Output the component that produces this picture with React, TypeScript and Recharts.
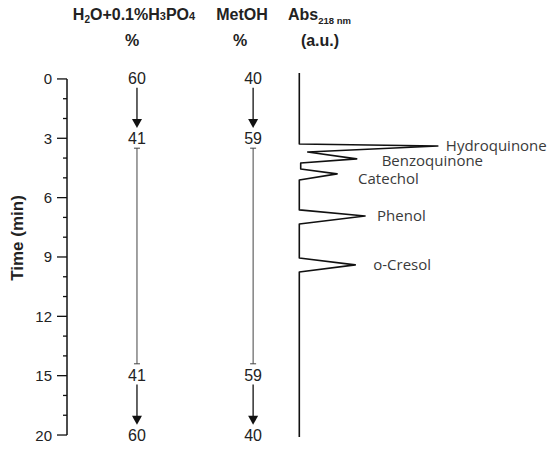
import React from "react";
import {
  LineChart,
  Line,
  XAxis,
  YAxis,
  ReferenceLine,
  ReferenceDot,
} from "recharts";

// time axis: positions 0..18, the last major tick is labelled 20 (axis break)
const TICK_POS = [0, 3, 6, 9, 12, 15, 18];
const TICK_LABELS = ["0", "3", "6", "9", "12", "15", "20"];
const MINOR_POS = [1, 2, 4, 5, 7, 8, 10, 11, 13, 14, 16, 17];

// gradient program
const GRAD_POS = [0, 3, 15, 18];
const WATER = [60, 41, 41, 60];
const METOH = [40, 59, 59, 40];

// chromatogram trace (time position, absorbance)
const TRACE_T = [-0.3, 3.29, 3.39, 3.69, 4.04, 4.25, 4.55, 4.8, 5.11, 6.62, 6.93, 7.33, 9.05, 9.4, 9.76, 18.1];
const TRACE_ABS = [0, 0, 99, 6, 41, 1, 1, 27, 0, 0, 47, 0, 0, 40, 0, 0];
const TRACE_LABEL = ["", "", "Hydroquinone", "", "Benzoquinone", "", "", "Catechol", "", "", "Phenol", "", "", "o-Cresol", "", ""];

const traceData = TRACE_T.map((t, i) => ({ t, abs: TRACE_ABS[i], name: TRACE_LABEL[i] }));

// layout
const X_MIN = -166;
const X_MAX = 172;
const COL_WATER = -116;
const COL_METOH = -33;
const LABEL_OFFSET: Record<string, [number, number]> = {
  Hydroquinone: [8, -1],
  Benzoquinone: [25, 1],
  Catechol: [21, 4],
  Phenol: [12, -1],
  "o-Cresol": [18, -1],
};

const SANS = "'Liberation Sans', Arial, sans-serif";

const TimeTick = (props: any) => {
  const { x, y, payload } = props;
  const axisX = x + 15;
  const idx = TICK_POS.indexOf(payload.value);
  const major = idx >= 0;
  return (
    <g>
      <line x1={axisX - (major ? 10 : 4)} x2={axisX} y1={y} y2={y} stroke="#111" strokeWidth={1.3} />
      {major && (
        <text x={x} y={y} textAnchor="end" dominantBaseline="central" fontSize={15} fontFamily={SANS} fill="#222">
          {TICK_LABELS[idx]}
        </text>
      )}
    </g>
  );
};

const Arrow = (props: any) => {
  const { x1, y1, y2 } = props;
  return (
    <g>
      <line x1={x1} x2={x1} y1={y1} y2={y2 - 8} stroke="#111" strokeWidth={1.3} />
      <polygon points={`${x1 - 5},${y2 - 9} ${x1 + 5},${y2 - 9} ${x1},${y2}`} fill="#111" />
    </g>
  );
};

const Hold = (props: any) => {
  const { x1, y1, y2 } = props;
  return (
    <g stroke="#444" strokeWidth={1}>
      <line x1={x1} x2={x1} y1={y1} y2={y2} />
      <line x1={x1 - 3} x2={x1 + 3} y1={y1} y2={y1} />
      <line x1={x1 - 3} x2={x1 + 3} y1={y2} y2={y2} />
    </g>
  );
};

const numberShape = (value: number) => (p: any) => (
  <text x={p.cx} y={p.cy} textAnchor="middle" dominantBaseline="central" fontSize={16} fontFamily={SANS} fill="#222">
    {value}
  </text>
);

const peakShape = (name: string) => (p: any) => {
  const [dx, dy] = LABEL_OFFSET[name];
  return (
    <text x={p.cx + dx} y={p.cy + dy} dominantBaseline="central" fontSize={15} fontFamily="'Open Sans', sans-serif" fill="#3a3a3a">
      {name}
    </text>
  );
};

function gradientMarks(col: number, values: number[], key: string) {
  const out: React.ReactNode[] = [];
  GRAD_POS.forEach((pos, i) => {
    out.push(
      <ReferenceDot key={`${key}-n${i}`} x={col} y={pos} r={0} shape={numberShape(values[i])} ifOverflow="visible" />
    );
    if (i < GRAD_POS.length - 1) {
      const next = GRAD_POS[i + 1];
      const hold = values[i] === values[i + 1];
      out.push(
        <ReferenceLine
          key={`${key}-s${i}`}
          segment={[
            { x: col, y: pos + (hold ? 0.5 : 0.45) },
            { x: col, y: next - (hold ? 0.6 : 0.52) },
          ]}
          shape={hold ? Hold : Arrow}
          ifOverflow="visible"
        />
      );
    }
  });
  return out;
}

export default function App() {
  return (
    <div style={{ position: "absolute", left: 0, top: 0, width: 550, height: 449, background: "#fff" }}>
      <svg width={550} height={60} style={{ position: "absolute", left: 0, top: 0 }}>
        <g fontFamily={SANS} fontWeight="bold" fill="#222">
          <text x={134} y={20} textAnchor="middle" fontSize={16}>
            H<tspan fontSize={10} dy={3}>2</tspan>
            <tspan dy={-3}>O+0.1%H</tspan>
            <tspan fontSize={11}>3</tspan>PO<tspan fontSize={11}>4</tspan>
          </text>
          <text x={132} y={46} textAnchor="middle" fontSize={16}>%</text>
          <text x={242} y={20} textAnchor="middle" fontSize={16}>MetOH</text>
          <text x={240} y={46} textAnchor="middle" fontSize={16}>%</text>
          <text x={288} y={20} fontSize={16}>
            Abs<tspan fontSize={9.5} dy={4}>218 nm</tspan>
          </text>
          <text x={320} y={46} textAnchor="middle" fontSize={16}>(a.u.)</text>
        </g>
      </svg>
      <svg width={40} height={449} style={{ position: "absolute", left: 0, top: 0 }}>
        <text
          x={17}
          y={238}
          transform="rotate(-90 17 238)"
          textAnchor="middle"
          dominantBaseline="central"
          fontSize={17}
          fontWeight="bold"
          fontFamily={SANS}
          fill="#222"
        >
          Time (min)
        </text>
      </svg>
      <div style={{ position: "absolute", left: 0, top: 0 }}>
        <LineChart
          width={550}
          height={449}
          layout="vertical"
          data={traceData}
          margin={{ top: 73, right: 10, bottom: 12, left: 0 }}
        >
          <XAxis type="number" domain={[X_MIN, X_MAX]} hide allowDataOverflow />
          <YAxis
            type="number"
            dataKey="t"
            domain={[-0.3, 18.1]}
            allowDataOverflow
            ticks={[...TICK_POS, ...MINOR_POS].sort((a, b) => a - b)}
            interval={0}
            width={67}
            tickSize={10}
            tickMargin={5}
            axisLine={false}
            tickLine={false}
            tick={TimeTick}
          />
          <ReferenceLine
            segment={[
              { x: X_MIN, y: 0 },
              { x: X_MIN, y: 18 },
            ]}
            stroke="#111"
            strokeWidth={1.5}
            ifOverflow="visible"
          />
          {gradientMarks(COL_WATER, WATER, "w")}
          {gradientMarks(COL_METOH, METOH, "m")}
          <Line
            dataKey="abs"
            type="linear"
            stroke="#111"
            strokeWidth={1.6}
            strokeLinejoin="round"
            dot={false}
            activeDot={false}
            isAnimationActive={false}
          />
          {traceData
            .filter((d) => d.name)
            .map((d) => (
              <ReferenceDot key={d.name} x={d.abs} y={d.t} r={0} shape={peakShape(d.name)} ifOverflow="visible" />
            ))}
        </LineChart>
      </div>
    </div>
  );
}
